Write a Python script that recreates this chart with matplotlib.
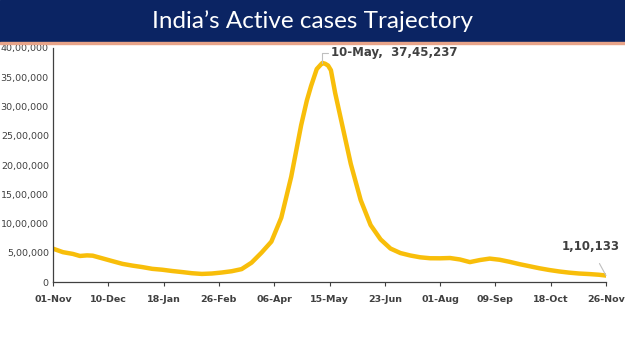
import pandas as pd
import matplotlib.pyplot as plt

# * fechas y casos activos (en lakh)
fechas = [
    "2020-11-01", "2020-11-08", "2020-11-15", "2020-11-20", "2020-11-25", "2020-11-29",
    "2020-12-06", "2020-12-13", "2020-12-20", "2020-12-27", "2021-01-03", "2021-01-10",
    "2021-01-17", "2021-01-24", "2021-01-31", "2021-02-07", "2021-02-14", "2021-02-21",
    "2021-02-28", "2021-03-07", "2021-03-14", "2021-03-21", "2021-03-28", "2021-04-04",
    "2021-04-11", "2021-04-18", "2021-04-25", "2021-04-29", "2021-05-02", "2021-05-06",
    "2021-05-09", "2021-05-10", "2021-05-12", "2021-05-14", "2021-05-16", "2021-05-19",
    "2021-05-23", "2021-05-30", "2021-06-06", "2021-06-13", "2021-06-20", "2021-06-27",
    "2021-07-04", "2021-07-11", "2021-07-18", "2021-07-25", "2021-08-01", "2021-08-08",
    "2021-08-15", "2021-08-22", "2021-08-29", "2021-09-05", "2021-09-12", "2021-09-19",
    "2021-09-26", "2021-10-03", "2021-10-10", "2021-10-17", "2021-10-24", "2021-10-31",
    "2021-11-07", "2021-11-14", "2021-11-21", "2021-11-26",
]
activos_lakh = [
    5.70, 5.10, 4.80, 4.45, 4.55, 4.50,
    4.03, 3.56, 3.10, 2.80, 2.55, 2.25,
    2.10, 1.88, 1.70, 1.50, 1.38, 1.45,
    1.62, 1.84, 2.20, 3.30, 5.00, 6.90,
    11.0, 18.0, 26.8, 31.0, 33.5, 36.4,
    37.2, 37.45, 37.3, 37.0, 36.2, 32.3,
    27.9, 20.2, 14.0, 9.73, 7.29, 5.72,
    4.95, 4.53, 4.22, 4.06, 4.05, 4.10,
    3.85, 3.40, 3.75, 4.00, 3.80, 3.45,
    3.05, 2.70, 2.35, 2.05, 1.80, 1.60,
    1.45, 1.36, 1.24, 1.10133,
]
etiquetas_y = ["0", "5,00,000", "10,00,000", "15,00,000", "20,00,000",
               "25,00,000", "30,00,000", "35,00,000", "40,00,000"]

titulo = "India\u2019s Active cases Trajectory"
pico_texto = "10-May,  37,45,237"
final_texto = "1,10,133"

fechas = pd.to_datetime(fechas)
activos = [v * 100000 for v in activos_lakh]

fig = plt.figure(figsize=(6.25, 3.51), dpi=100)

# * banda del titulo
fig.patches.append(plt.Rectangle((0, 1 - 42 / 351), 1, 42 / 351,
                                 transform=fig.transFigure, color="#0B2463", zorder=0))
fig.patches.append(plt.Rectangle((0, 1 - 44 / 351), 1, 2 / 351,
                                 transform=fig.transFigure, color="#E8A489", zorder=0))
fig.text(0.5, 1 - 21 / 351, titulo, color="white", fontsize=17.5, family="Lato",
         ha="center", va="center")

ax = fig.add_axes([53 / 625, 1 - 282 / 351, 553 / 625, 234 / 351])
ax.plot(fechas, activos, color="#F8BE0A", linewidth=3.2, solid_capstyle="round")

ax.set_ylim(0, 4000000)
inicio = pd.Timestamp("2020-11-01")
fin = pd.Timestamp("2021-11-26")
ax.set_xlim(inicio, fin)
ticks_x = pd.date_range(inicio, fin, freq="39D")
ax.set_xticks(ticks_x)
ax.set_xticklabels([d.strftime("%d-%b") for d in ticks_x], fontsize=6.8,
                   fontweight="bold", color="#404040")
ax.set_yticks(range(0, 4000001, 500000))
ax.set_yticklabels(etiquetas_y, fontsize=6.8, color="#404040")

for lado in ["top", "right"]:
    ax.spines[lado].set_visible(False)
for lado in ["left", "bottom"]:
    ax.spines[lado].set_color("#404040")
    ax.spines[lado].set_linewidth(0.9)
ax.tick_params(axis="x", length=3, color="#404040", pad=6)
ax.tick_params(axis="y", length=0, pad=3)

# * anotaciones del pico y del ultimo valor
i_pico = activos.index(max(activos))
ax.annotate(pico_texto, xy=(fechas[i_pico], activos[i_pico]),
            xytext=(fechas[i_pico] + pd.Timedelta(days=6), 3920000),
            fontsize=8.5, fontweight="bold", color="#404040", va="center",
            arrowprops=dict(arrowstyle="-", color="#BFBFBF", lw=0.8,
                            shrinkA=0, shrinkB=0,
                            connectionstyle="angle,angleA=0,angleB=90,rad=0"))
ax.annotate(final_texto, xy=(fechas[-1], activos[-1]),
            xytext=(fechas[-1] - pd.Timedelta(days=11), 600000),
            fontsize=8.5, fontweight="bold", color="#404040", ha="center", va="center",
            arrowprops=dict(arrowstyle="-", color="#BFBFBF", lw=0.8,
                            shrinkA=6, shrinkB=0))

plt.savefig("out.png", dpi=100)
